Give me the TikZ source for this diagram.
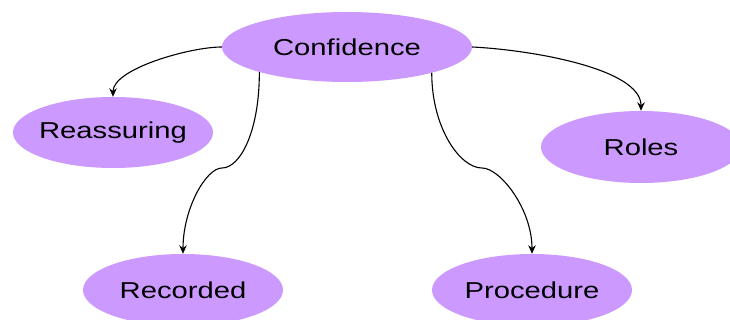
\documentclass[tikz,border=0pt]{standalone}
\usepackage{fontspec}
\setmainfont{Liberation Sans}[FakeStretch=1.27]
\usetikzlibrary{arrows.meta,shapes.geometric}
\definecolor{bubble}{HTML}{CC99FF}
\begin{document}
\begin{tikzpicture}[x=1pt,y=-1pt,
  topic/.style={ellipse,fill=bubble,draw=none,inner sep=0pt,
    minimum width=200pt,minimum height=71pt,
    font=\fontsize{23}{28}\selectfont},
  link/.style={draw=black,line width=1.1pt,
    -{Stealth[length=8.5pt,width=7.5pt]}}]
\useasboundingbox (0,0) rectangle (730,320);
\fill[white] (0,0) rectangle (730,320);

% text boxes of zero width so the ellipse keeps its given size
\node[topic,minimum width=250pt,minimum height=70pt] (conf) at (347,47) {\makebox[0pt]{Confidence}};
\node[topic] (reas) at (113,132.5) {\makebox[0pt]{Reassuring}};
\node[topic,minimum height=72pt] (roles) at (641,147) {\makebox[0pt]{Roles}};
\node[topic,minimum height=72pt] (rec) at (183,290) {\makebox[0pt]{Recorded}};
\node[topic,minimum height=72pt] (proc) at (532,290) {\makebox[0pt]{Procedure}};

\coordinate (k1) at (222,168);
\coordinate (k2) at (482,168);

\draw[link] (conf.west) .. controls +(-32,0) and +(0,-28) .. (reas.north);
\draw[link] (conf.east) .. controls +(60,3) and +(0,-42) .. (roles.north);
\draw[link] (conf.196) .. controls +(0,60) and +(18,0) .. (k1)
  .. controls +(-16,0) and +(0,-45) .. (rec.north);
\draw[link] (conf.343.5) .. controls +(0,55) and +(-22,0) .. (k2)
  .. controls +(18,0) and +(0,-45) .. (proc.north);
\end{tikzpicture}
\end{document}
